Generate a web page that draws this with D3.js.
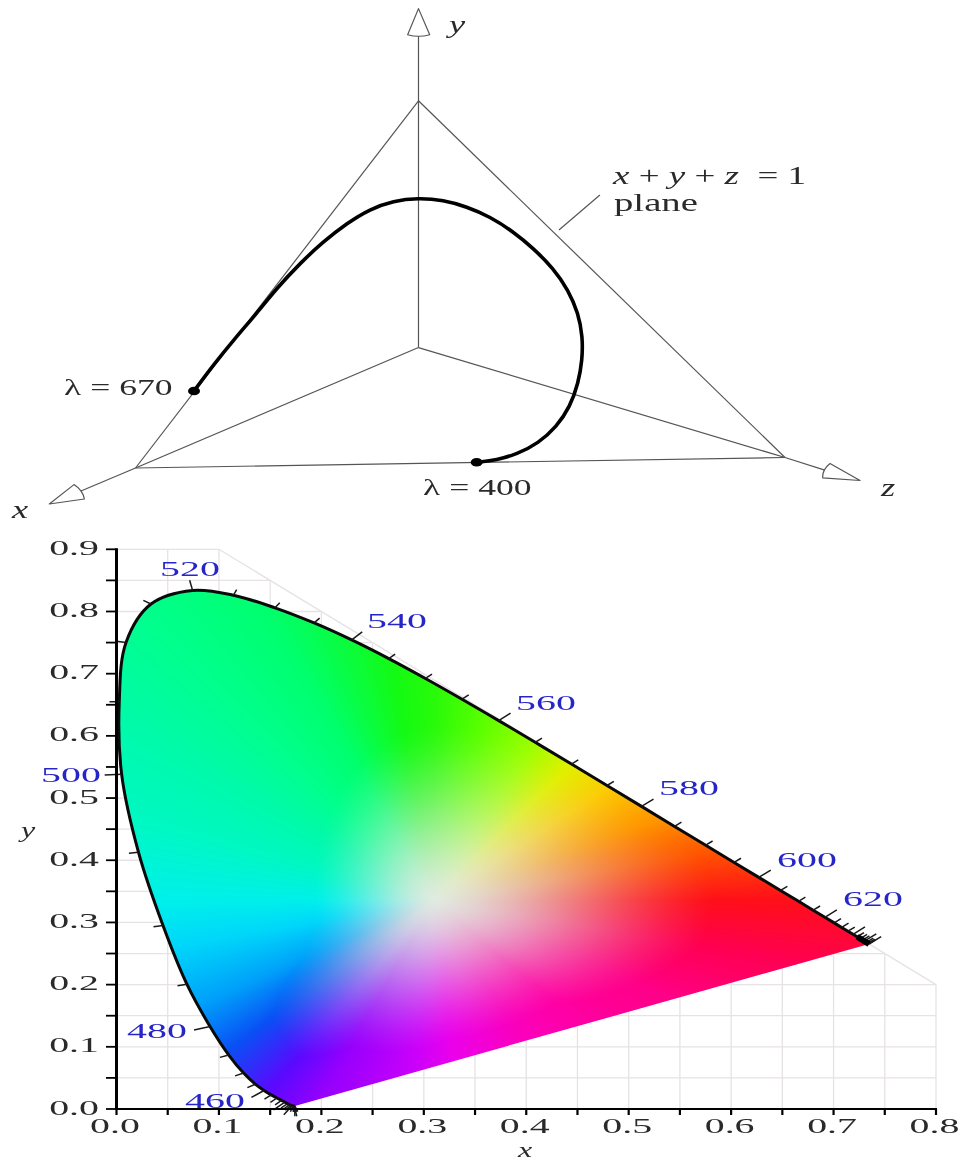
<!DOCTYPE html>
<html><head><meta charset="utf-8">
<script src="https://cdn.jsdelivr.net/npm/d3@7"></script>
<style>html,body{margin:0;padding:0;background:#fff}svg{display:block;filter:blur(.45px)}text{font-family:"Liberation Serif",serif;white-space:pre}</style>
</head><body><svg id="c" width="964" height="1162"></svg>
<script>
// ---- spectral locus (nm, x, y)
const wavelengths=[380,385,390,395,400,405,410,415,420,425,430,435,440,445,450,455,460,465,470,475,480,485,490,495,500,505,510,515,520,525,530,535,540,545,550,555,560,565,570,575,580,585,590,595,600,605,610,615,620,625,630,635,640,645,650,655,660,665,670,675,680];
const locusX=[.1741,.1740,.1738,.1736,.1733,.1730,.1726,.1721,.1714,.1703,.1689,.1669,.1644,.1611,.1566,.1510,.1440,.1355,.1241,.1096,.0913,.0687,.0454,.0215,.0050,.0027,.0093,.0337,.0743,.1142,.1547,.1929,.2296,.2658,.3016,.3373,.3731,.4087,.4441,.4788,.5125,.5448,.5752,.6029,.6270,.6482,.6658,.6801,.6915,.7006,.7079,.7140,.7190,.7230,.7260,.7283,.7300,.7320,.7334,.7344,.7347];
const locusY=[.0050,.0050,.0049,.0049,.0048,.0048,.0048,.0048,.0051,.0058,.0069,.0086,.0109,.0138,.0177,.0227,.0297,.0399,.0578,.0868,.1327,.2007,.2950,.4127,.5384,.6548,.7502,.8120,.8338,.8262,.8059,.7816,.7543,.7243,.6923,.6589,.6245,.5896,.5547,.5202,.4866,.4544,.4242,.3965,.3725,.3514,.3340,.3197,.3083,.2993,.2920,.2859,.2809,.2770,.2740,.2717,.2700,.2680,.2666,.2656,.2653];
const xTicks=d3.range(0,17).map(i=>i*.05);
const yTicks=d3.range(0,19).map(i=>i*.05);
const xLabels=["0.0","0.1","0.2","0.3","0.4","0.5","0.6","0.7","0.8"];
const yLabels=["0.0","0.1","0.2","0.3","0.4","0.5","0.6","0.7","0.8","0.9"];
const labelledNm=[460,480,500,520,540,560,580,600,620];
const labelLeft=[185,127,41,160,367,516,659,777,843];
const labelBase=[1107.5,1038,782,576,628,710,795,867,906];
// ---- colour ring: direction from the pale centre (deg), saturated rgb, reach
const centerPoint=[.31,.335], centerRGB=[225,235,225];
const ringAngle=[0,10,20,33,45,57,75,90,100,120,135,150,165,180,190,204,216,229,240,264,277,302,320,338,350,360];
const ringR=[255,255,255,252,225,160,90,40,20,0,0,0,0,0,0,0,10,90,150,205,235,250,255,255,255,255];
const ringG=[15,85,150,205,240,255,255,250,250,255,255,250,248,240,215,160,80,10,0,0,0,0,0,0,0,15];
const ringB=[25,0,0,5,0,0,0,10,20,110,140,170,195,235,250,250,245,255,253,250,235,190,165,135,85,25];
const ringReach=[280,270,220,200,180,180,175,175,170,155,140,130,122,118,120,145,200,208,170,150,140,145,160,220,270,280];
// ---- schematic of the x+y+z=1 plane, in units of the triangle
const curveU=[.0901,.1198,.1532,.1866,.2174,.2533,.2891,.3252,.3611,.3969,.4354,.4739,.5099,.5458,.5817,.6125,.6433,.6664,.6818,.6885,.6879,.6818,.669,.6485,.6202,.5869,.5561,.5253];
const curveV=[.2097,.2805,.3532,.4213,.4894,.5575,.6163,.6664,.7053,.7279,.7353,.7298,.7116,.6844,.6435,.5983,.5438,.4847,.4213,.3576,.2941,.2307,.1669,.1125,.0673,.0373,.0218,.0155];
const vertexX=[0,0], vertexY=[.4357,1], vertexZ=[1,.0286], origin=[.4357,.328];
const arrowY=[[.4357,1.251],[.419,1.18],[.453,1.18]], arrowYBase=[.4357,1.18];
const arrowX=[[-.1327,-.098],[-.0947,-.0452],[-.0787,-.0844]], arrowXBase=[-.0867,-.0648];
const arrowZ=[[1.1155,-.034],[1.0693,.012],[1.058,-.0267]], arrowZBase=[1.0637,-.0073];
const leader=[[.715,.7435],[.652,.648]];

const svg=d3.select("#c");
const sx=d3.scaleLinear().domain([0,.8]).range([116.5,936]);
const sy=d3.scaleLinear().domain([0,.9]).range([1109,549.3]);
const u=d3.scaleLinear().domain([0,1]).range([135.5,785]);
const v=d3.scaleLinear().domain([0,1]).range([468,100.8]);
const uv=p=>[u(p[0]),v(p[1])];
const XS=1.9, FS=21;

function txt(g,x,y,s,o={}){
  const t=g.append("text").attr("transform",`translate(${x},${y}) scale(${o.sx||XS},1)`)
    .attr("font-size",o.fs||FS).attr("fill",o.fill||"#2a2a2a").attr("text-anchor",o.anchor||"start");
  if(o.italic)t.attr("font-style","italic");
  if(typeof s==="string")t.text(s);
  else s.forEach(p=>t.append("tspan").attr("font-style",p[1]?"italic":"normal").text(p[0]));
  return t;
}

// ---------- upper panel
const upper=svg.append("g").attr("fill","none").attr("stroke","#555").attr("stroke-width",1.2).attr("stroke-linejoin","round");
const seg=(a,b)=>upper.append("line").attr("x1",u(a[0])).attr("y1",v(a[1])).attr("x2",u(b[0])).attr("y2",v(b[1]));
[[origin,arrowYBase],[vertexX,vertexY],[vertexY,vertexZ],[vertexZ,vertexX],[origin,vertexX],[origin,vertexZ],[vertexX,arrowXBase],[vertexZ,arrowZBase],leader].forEach(s=>seg(s[0],s[1]));
[[arrowY,arrowYBase],[arrowX,arrowXBase],[arrowZ,arrowZBase]].forEach(([a,c])=>{
  const [p0,p1,p2]=a.map(uv),b=uv(c),q=d3.path();
  q.moveTo(p0[0],p0[1]);q.lineTo(p1[0],p1[1]);
  q.quadraticCurveTo(b[0]+(b[0]-p0[0])*.12,b[1]+(b[1]-p0[1])*.12,p2[0],p2[1]);q.closePath();
  upper.append("path").attr("d",q.toString()).attr("fill","#fff");
});
const curvePts=curveU.map((d,i)=>[u(d),v(curveV[i])]);
svg.append("path").attr("d",d3.line().curve(d3.curveBasis)(curvePts)).attr("fill","none").attr("stroke","#000").attr("stroke-width",3.6);
[curvePts[0],curvePts[curvePts.length-1]].forEach(p=>svg.append("ellipse").attr("cx",p[0]).attr("cy",p[1]).attr("rx",6).attr("ry",4.3).attr("fill","#000"));
const tt=svg.append("g");
txt(tt,449,33,"y",{italic:true,sx:1.4,fs:26});
txt(tt,881,496,"z",{italic:true,sx:1.4,fs:26});
txt(tt,12,518,"x",{italic:true,sx:1.4,fs:26});
txt(tt,613,184,[["x",1],[" + ",0],["y",1],[" + ",0],["z",1],["  = 1",0]],{sx:1.48,fs:25});
txt(tt,614,210.5,"plane",{sx:1.55,fs:25});
txt(tt,64,395,"λ = 670",{sx:1.55,fs:23});
txt(tt,423,495,"λ = 400",{sx:1.55,fs:23});

// ---------- grid (staircase bounded by x+y=1)
const grid=svg.append("g").attr("stroke","#e6e2e6").attr("stroke-width",1.3).attr("fill","none");
xTicks.slice(1).forEach(x=>grid.append("line").attr("x1",sx(x)).attr("x2",sx(x)).attr("y1",sy(0)).attr("y2",sy(Math.min(.9,1-x))));
yTicks.slice(1).forEach(y=>grid.append("line").attr("x1",sx(0)).attr("x2",sx(Math.min(.8,1-y))).attr("y1",sy(y)).attr("y2",sy(y)));
grid.append("line").attr("x1",sx(.1)).attr("y1",sy(.9)).attr("x2",sx(.8)).attr("y2",sy(.2));

// ---------- chromaticity field, raster made through scales over the colour ring
const pts=locusX.map((d,i)=>[sx(d),sy(locusY[i])]);
svg.append("clipPath").attr("id","g").append("path").attr("d",d3.line().curve(d3.curveCatmullRom)(pts)+"Z");
const CELL=2;
const W=Math.ceil((sx(.8)-sx(0))/CELL),H=Math.ceil((sy(0)-sy(.9))/CELL);
const cv=document.createElement("canvas");cv.width=W;cv.height=H;
const ctx=cv.getContext("2d"),img=ctx.createImageData(W,H);
const rS=d3.scaleLinear().domain(ringAngle).range(ringR),gS=d3.scaleLinear().domain(ringAngle).range(ringG),bS=d3.scaleLinear().domain(ringAngle).range(ringB),dS=d3.scaleLinear().domain(ringAngle).range(ringReach);
const cx0=sx(centerPoint[0]),cy0=sy(centerPoint[1]);
for(let j=0;j<H;j++)for(let i=0;i<W;i++){
  const px=sx(0)+(i+.5)*CELL,py=sy(.9)+(j+.5)*CELL;
  let ang=Math.atan2(cy0-py,px-cx0)*180/Math.PI;if(ang<0)ang+=360;
  const t=Math.min(1,Math.hypot(px-cx0,py-cy0)/dS(ang));
  const s=.5*t+.5*(3*t*t-2*t*t*t);
  const o=(j*W+i)*4;
  img.data[o]=centerRGB[0]+(rS(ang)-centerRGB[0])*s;
  img.data[o+1]=centerRGB[1]+(gS(ang)-centerRGB[1])*s;
  img.data[o+2]=centerRGB[2]+(bS(ang)-centerRGB[2])*s;
  img.data[o+3]=255;
}
ctx.putImageData(img,0,0);
svg.append("image").attr("href",cv.toDataURL()).attr("x",sx(0)).attr("y",sy(.9)).attr("width",W*CELL).attr("height",H*CELL).attr("preserveAspectRatio","none").attr("clip-path","url(#g)");

// ---------- locus outline and wavelength ticks
const locusLine=d3.line().curve(d3.curveCatmullRom);
svg.append("path").attr("d",locusLine(pts)).attr("fill","none").attr("stroke","#0a0a0a").attr("stroke-width",3);
const tickG=svg.append("g").attr("stroke","#1a1a1a").attr("stroke-width",1.5);
wavelengths.forEach((nm,i)=>{
  const a=Math.max(i-1,0),b=Math.min(i+1,wavelengths.length-1);
  let dx=locusX[b]-locusX[a],dy=locusY[b]-locusY[a];const m=Math.hypot(dx,dy)||1;dx/=m;dy/=m;
  const L=nm%20===0?.0166:.0095;
  const ox=-dy,oy=dx; // travel is clockwise round the gamut, so outward is to the left
  tickG.append("line").attr("x1",sx(locusX[i])).attr("y1",sy(locusY[i]))
    .attr("x2",sx(locusX[i]+ox*L)).attr("y2",sy(locusY[i]+oy*L));
});
// the dense ticks merge into a solid tip at the far red end
svg.append("path").attr("d",locusLine(pts.filter((p,i)=>wavelengths[i]>=645))).attr("fill","none").attr("stroke","#000").attr("stroke-width",6);
const lab=svg.append("g");
labelledNm.forEach((nm,i)=>txt(lab,labelLeft[i],labelBase[i],String(nm),{fill:"#2626c8"}));

// ---------- axes
const ax=svg.append("g").attr("stroke","#000");
ax.append("line").attr("x1",sx(0)).attr("x2",sx(0)).attr("y1",sy(.9)-1).attr("y2",sy(0)+1).attr("stroke-width",3);
ax.append("line").attr("x1",sx(0)).attr("x2",sx(.8)+1).attr("y1",sy(0)).attr("y2",sy(0)).attr("stroke-width",2.2);
yTicks.forEach(y=>ax.append("line").attr("x1",sx(0)-10.5).attr("x2",sx(0)).attr("y1",sy(y)).attr("y2",sy(y)).attr("stroke-width",1.8));
xTicks.forEach(x=>ax.append("line").attr("x1",sx(x)).attr("x2",sx(x)).attr("y1",sy(0)).attr("y2",sy(0)+6).attr("stroke-width",2.2));
yLabels.forEach((s,i)=>txt(lab,99,sy(i/10)+5.5,s,{anchor:"end"}));
xLabels.forEach((s,i)=>txt(lab,sx(i/10)-1.5,1133,s,{anchor:"middle"}));
txt(lab,518,1157,"x",{italic:true,fs:20,sx:1.6});
txt(lab,21,837,"y",{italic:true,fs:20,sx:1.6});
</script></body></html>
